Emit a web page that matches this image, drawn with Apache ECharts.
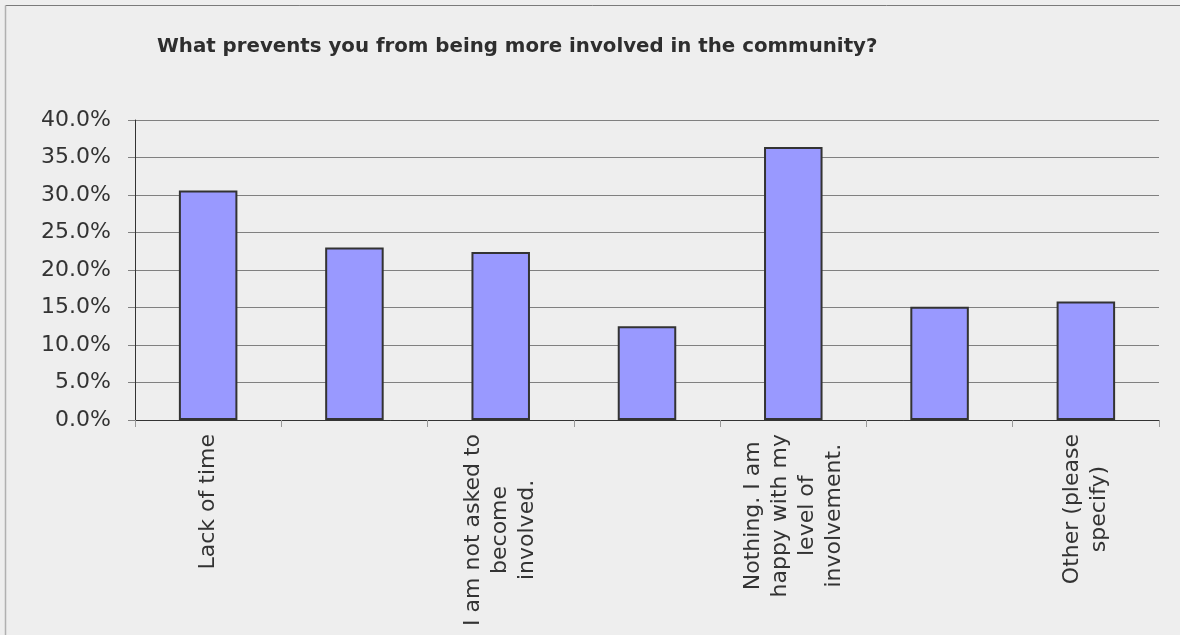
<!DOCTYPE html>
<html>
<head>
<meta charset="utf-8">
<script src="https://cdn.jsdelivr.net/npm/echarts@6/dist/echarts.min.js"></script>
<style>
  html, body { margin: 0; padding: 0; background: #eeeeee; }
  #chart { width: 1180px; height: 635px; }
</style>
</head>
<body>
<div id="chart"></div>
<script>
// Survey responses: share of respondents choosing each reason (percent)
const titleText = 'What prevents you from being more involved in the community?';
const categories = [
  'Lack of time',
  'Lack of information\nabout opportunities',
  'I am not asked to\nbecome\ninvolved.',
  'Not interested',
  'Nothing. I am\nhappy with my\nlevel of\ninvolvement.',
  'Family\ncommitments',
  'Other (please\nspecify)'
];
const shares = [30.6, 23.0, 22.4, 12.5, 36.4, 15.1, 15.8];
const yTicks = { min: 0, max: 40, step: 5 };

const FONT = '"DejaVu Sans", Verdana, sans-serif';
const chart = echarts.init(document.getElementById('chart'));

chart.setOption({
  backgroundColor: '#eeeeee',
  animation: false,
  title: {
    text: titleText,
    left: 152,
    top: 32,
    textStyle: { fontFamily: FONT, fontSize: 19.8, fontWeight: 'bold', color: '#2e2e2e' }
  },
  graphic: [
    { type: 'line', shape: { x1: 5.5, y1: 5.5, x2: 1180, y2: 5.5 }, style: { stroke: '#7a7a7a', lineWidth: 1 } },
    { type: 'line', shape: { x1: 5.5, y1: 5.5, x2: 5.5, y2: 635 }, style: { stroke: '#b0b0b0', lineWidth: 1.5 } }
  ],
  grid: { left: 135, right: 21, top: 120, bottom: 215, containLabel: false },
  xAxis: {
    type: 'category',
    data: categories,
    axisLine: { lineStyle: { color: '#333333', width: 1 } },
    axisTick: { show: true, interval: 0, length: 7, lineStyle: { color: '#999999' } },
    axisLabel: {
      interval: 1,
      rotate: 90,
      margin: 14,
      formatter: v => v.split('\n').map(l => '{c|' + l + '}').join('\n'),
      rich: {
        c: { align: 'center', fontFamily: FONT, fontSize: 22, lineHeight: 27, color: '#333333' }
      }
    },
    splitLine: { show: false }
  },
  yAxis: {
    type: 'value',
    min: yTicks.min,
    max: yTicks.max,
    interval: yTicks.step,
    axisLine: { show: true, lineStyle: { color: '#333333', width: 1 } },
    axisTick: { show: true, length: 7, lineStyle: { color: '#808080' } },
    axisLabel: {
      margin: 24,
      fontFamily: FONT,
      fontSize: 22,
      color: '#333333',
      formatter: v => v.toFixed(1) + '%'
    },
    splitLine: { show: true, lineStyle: { color: '#808080', width: 1 } }
  },
  series: [{
    type: 'bar',
    data: shares,
    barWidth: '40%',
    itemStyle: { color: '#9999ff', borderColor: '#333333', borderWidth: 2 }
  }]
});
</script>
</body>
</html>
